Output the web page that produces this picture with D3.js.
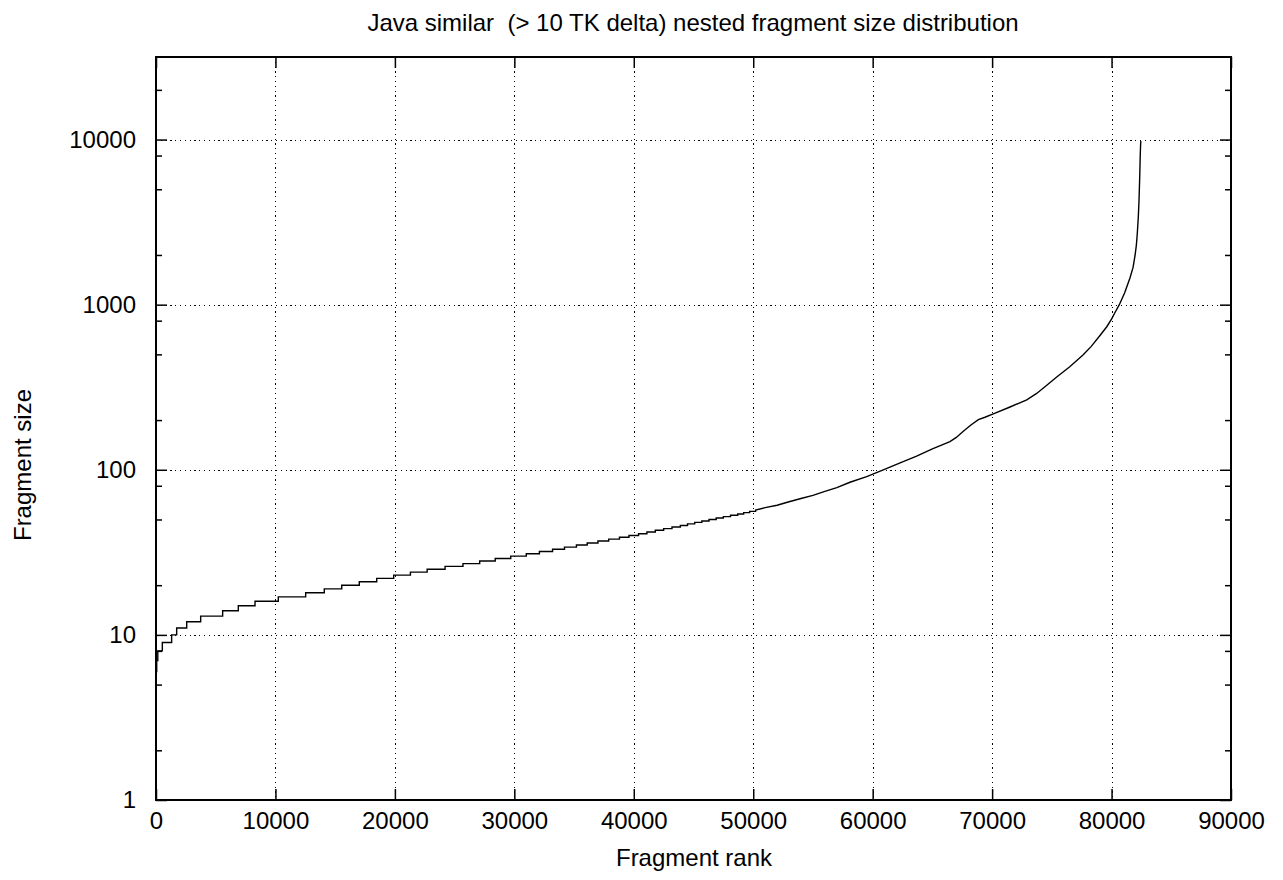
<!DOCTYPE html>
<html>
<head>
<meta charset="utf-8">
<script src="https://cdn.jsdelivr.net/npm/d3@7"></script>
<style>
  html, body { margin: 0; padding: 0; background: #fff; }
  svg { display: block; font-family: "Liberation Sans", Arial, Helvetica, sans-serif; }
  text { white-space: pre; }
</style>
</head>
<body>
<svg id="chart" width="1283" height="880"></svg>
<script>
// ---- data ----
const titleText = "Java similar  (> 10 TK delta) nested fragment size distribution";
const xLabel = "Fragment rank";
const yLabel = "Fragment size";

const xTicks = [0, 10000, 20000, 30000, 40000, 50000, 60000, 70000, 80000, 90000];
const yTicks = [1, 10, 100, 1000, 10000];
const yMinorTicks = [2, 5, 8, 20, 50, 80, 200, 500, 800, 2000, 5000, 8000, 20000];

// stepped part: each size holds until its end rank
const stepSizes = [6, 7, 8, 9, 10, 11, 12, 13, 14, 15, 16, 17, 18, 19, 20, 21, 22, 23, 24, 25, 26, 27, 28, 29, 30,
  31, 32, 33, 34, 35, 36, 37, 38, 39, 40, 41, 42, 43, 44, 45, 46, 47, 48, 49, 50, 51, 52, 53, 54, 55, 56];
const stepEnds = [60, 150, 530, 1310, 1730, 2570, 3740, 5580, 6890, 8290, 10240, 12530, 14090, 15550, 17020, 18480,
  19900, 21300, 22700, 24200, 25700, 27100, 28400, 29700, 31000, 32100, 33200, 34200, 35200, 36100, 37000, 37900,
  38800, 39600, 40400, 41100, 41800, 42500, 43200, 43900, 44500, 45100, 45700, 46300, 46900, 47500, 48100, 48700,
  49200, 49700, 50200];

// smooth tail
const curveRanks = [50200, 51000, 52000, 53000, 54000, 55000, 56000, 57000, 58100, 59500, 60890, 62300, 63680,
  65000, 66470, 67000, 67590, 68200, 68850, 69400, 70100, 71500, 72900, 73730, 74500, 75410, 76500, 77630, 78300,
  79030, 79600, 80010, 80300, 80650, 81100, 81540, 81800, 81960, 82080, 82160, 82240, 82300, 82360, 82400, 82430, 82450];
const curveSizes = [57, 59, 61, 64, 67, 70, 74, 78, 84, 91, 100, 110, 121, 134, 148, 157, 171, 186, 201, 208, 218,
  240, 265, 290, 322, 365, 421, 497, 559, 650, 735, 820, 900, 1000, 1180, 1450, 1680, 1972, 2300, 2735, 3400, 4300,
  6000, 8000, 9200, 9800];

// ---- layout ----
const m = { left: 156, right: 1231, top: 57, bottom: 800 };
const svg = d3.select("#chart");

const x = d3.scaleLinear().domain([0, 90000]).range([m.left, m.right]);
const y = d3.scaleLog().domain([1, Math.pow(10, 4.5)]).range([m.bottom, m.top]);

// grid
const grid = svg.append("g").attr("stroke", "#000").attr("stroke-width", 1)
  .attr("stroke-dasharray", "1.2,3.6").attr("shape-rendering", "crispEdges");
xTicks.filter(t => t > 0 && t < 90000).forEach(t => {
  grid.append("line").attr("x1", Math.round(x(t)) + 0.5).attr("x2", Math.round(x(t)) + 0.5)
    .attr("y1", m.top).attr("y2", m.bottom);
});
yTicks.filter(t => t > 1).forEach(t => {
  grid.append("line").attr("y1", Math.round(y(t)) + 0.5).attr("y2", Math.round(y(t)) + 0.5)
    .attr("x1", m.left).attr("x2", m.right);
});

// data line
const pts = [];
let start = 0;
stepSizes.forEach((s, i) => {
  pts.push([start, s]);
  pts.push([stepEnds[i], s]);
  start = stepEnds[i];
});
curveRanks.forEach((r, i) => pts.push([r, curveSizes[i]]));

const line = d3.line().x(d => x(d[0])).y(d => y(d[1]));
svg.append("path").datum(pts).attr("d", line)
  .attr("fill", "none").attr("stroke", "#000").attr("stroke-width", 1.4);

// axes (ticks on all sides, gnuplot style)
const fs = 24;
const axisL = d3.axisLeft(y).tickValues(yTicks).tickFormat(d3.format("d")).tickSizeInner(-11).tickSizeOuter(0).tickPadding(20);
const axisR = d3.axisRight(y).tickValues(yTicks).tickFormat("").tickSizeInner(-11).tickSizeOuter(0);
const axisB = d3.axisBottom(x).tickValues(xTicks).tickFormat(d3.format("d")).tickSizeInner(-11).tickSizeOuter(0).tickPadding(12);
const axisT = d3.axisTop(x).tickValues(xTicks).tickFormat("").tickSizeInner(-11).tickSizeOuter(0);
const minorL = d3.axisLeft(y).tickValues(yMinorTicks).tickFormat("").tickSizeInner(-6).tickSizeOuter(0);
const minorR = d3.axisRight(y).tickValues(yMinorTicks).tickFormat("").tickSizeInner(-6).tickSizeOuter(0);

function styleAxis(g) {
  g.select(".domain").remove();
  g.selectAll(".tick line").attr("stroke", "#000").attr("stroke-width", 1.5);
  g.selectAll(".tick text").attr("fill", "#000").attr("font-size", fs).attr("font-family", "Liberation Sans, Arial, sans-serif");
}
svg.append("g").attr("transform", `translate(${m.left},0)`).call(axisL).call(styleAxis);
svg.append("g").attr("transform", `translate(${m.right},0)`).call(axisR).call(styleAxis);
svg.append("g").attr("transform", `translate(0,${m.bottom})`).call(axisB).call(styleAxis);
svg.append("g").attr("transform", `translate(0,${m.top})`).call(axisT).call(styleAxis);
svg.append("g").attr("transform", `translate(${m.left},0)`).call(minorL).call(styleAxis);
svg.append("g").attr("transform", `translate(${m.right},0)`).call(minorR).call(styleAxis);

// frame
svg.append("rect").attr("x", m.left).attr("y", m.top)
  .attr("width", m.right - m.left).attr("height", m.bottom - m.top)
  .attr("fill", "none").attr("stroke", "#000").attr("stroke-width", 2);

// labels
svg.append("text").attr("x", 693).attr("y", 31).attr("text-anchor", "middle")
  .attr("font-size", fs).attr("fill", "#000").text(titleText);
svg.append("text").attr("x", 694).attr("y", 866).attr("text-anchor", "middle")
  .attr("font-size", fs).attr("fill", "#000").text(xLabel);
svg.append("text").attr("transform", "translate(31,465) rotate(-90)").attr("text-anchor", "middle")
  .attr("font-size", fs).attr("fill", "#000").text(yLabel);
</script>
</body>
</html>
